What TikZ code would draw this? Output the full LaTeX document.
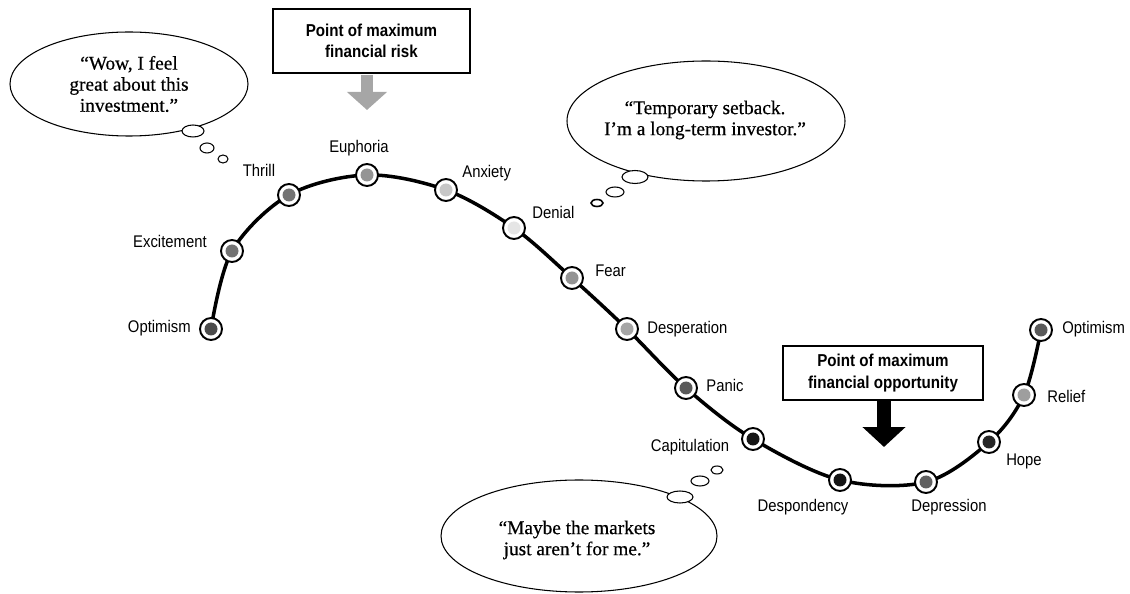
\documentclass[tikz,border=0pt]{standalone}
\usepackage{fontspec}
\setmainfont{Liberation Serif}
\setsansfont{Liberation Sans}[FakeStretch=0.88]
\newfontfamily\thoughtfont{Liberation Serif}[FakeBold=0.5]
\usetikzlibrary{arrows.meta}
\begin{document}
\begin{tikzpicture}[x=0.02cm,y=-0.02cm,
  stage/.style={circle, draw=black, line width=1.1pt, fill=white, minimum size=0.44cm, inner sep=0pt,
    path picture={\fill[#1] (path picture bounding box.center) circle[radius=0.13cm];}},
  lbl/.style={font=\sffamily\fontsize{9.6}{11}\selectfont, inner sep=0pt, text height=7pt, text depth=2pt},
  bubble/.style={draw=black, line width=0.6pt, fill=white},
  thought/.style={font=\thoughtfont\fontsize{11}{12}\selectfont, align=center, inner sep=0pt},
  callout/.style={draw=black, line width=1.4pt, fill=white, font=\sffamily\bfseries\fontsize{9.8}{12.3}\selectfont, align=center, inner sep=0pt},
  curve/.style={line width=2pt, draw=black},
]
\useasboundingbox (0,0) rectangle (1130,594);

% curve points
\coordinate (o1) at (211,329);
\coordinate (exc) at (232,251);
\coordinate (thr) at (289,195);
\coordinate (eup) at (367,175);
\coordinate (anx) at (446,190);
\coordinate (den) at (514,228);
\coordinate (fear) at (572,278);
\coordinate (desp) at (627,329);
\coordinate (pan) at (686,388);
\coordinate (cap) at (753,439);
\coordinate (dsp) at (840,480);
\coordinate (dep) at (926,482);
\coordinate (hope) at (989,442);
\coordinate (rel) at (1024,395);
\coordinate (o2) at (1041,330);

\draw[curve] plot[smooth, tension=0.55] coordinates {(o1) (exc) (thr) (eup) (anx) (den) (fear) (desp) (pan) (cap) (dsp) (dep) (hope) (rel) (o2)};

% stage markers
\node[stage=black!70] (n-o1) at (o1) {};
\node[stage=black!55] (n-exc) at (exc) {};
\node[stage=black!55] (n-thr) at (thr) {};
\node[stage=black!42] (n-eup) at (eup) {};
\node[stage=black!22] (n-anx) at (anx) {};
\node[stage=black!10] (n-den) at (den) {};
\node[stage=black!42] (n-fear) at (fear) {};
\node[stage=black!35] (n-desp) at (desp) {};
\node[stage=black!65] (n-pan) at (pan) {};
\node[stage=black!92] (n-cap) at (cap) {};
\node[stage=black!92] (n-dsp) at (dsp) {};
\node[stage=black!62] (n-dep) at (dep) {};
\node[stage=black!85] (n-hope) at (hope) {};
\node[stage=black!38] (n-rel) at (rel) {};
\node[stage=black!65] (n-o2) at (o2) {};

% stage labels
\node[lbl, anchor=east] (l-o1) at (191,328) {Optimism};
\node[lbl, anchor=east] (l-exc) at (207,243) {Excitement};
\node[lbl] (l-thr) at (259,172) {Thrill};
\node[lbl] (l-eup) at (359,148) {Euphoria};
\node[lbl, anchor=west] (l-anx) at (462,173) {Anxiety};
\node[lbl, anchor=west] (l-den) at (532,214) {Denial};
\node[lbl, anchor=west] (l-fear) at (595,272) {Fear};
\node[lbl, anchor=west] (l-desp) at (647,329) {Desperation};
\node[lbl, anchor=west] (l-pan) at (706,387) {Panic};
\node[lbl] (l-cap) at (690,447) {Capitulation};
\node[lbl] (l-dsp) at (803,507) {Despondency};
\node[lbl] (l-dep) at (949,507) {Depression};
\node[lbl] (l-hope) at (1024,461) {Hope};
\node[lbl, anchor=west] (l-rel) at (1047,398) {Relief};
\node[lbl, anchor=west] (l-o2) at (1062,329) {Optimism};

% callout boxes and arrows
\node[callout, minimum width=3.94cm, minimum height=1.28cm] (risk) at (371.5,41) {Point of maximum\\financial risk};
\coordinate (a1s) at (367,75);
\coordinate (a1e) at (367,110);
\draw[line width=0.24cm, draw=black!35, -{Triangle[width=0.78cm,length=0.36cm]}] (a1s) -- (a1e);

\node[callout, line width=1.2pt, minimum width=4cm, minimum height=1.08cm] (opp) at (883,373) {Point of maximum\\financial opportunity};
\coordinate (a2s) at (884,401);
\coordinate (a2e) at (884,447);
\draw[line width=0.28cm, draw=black, -{Triangle[width=0.84cm,length=0.4cm]}] (a2s) -- (a2e);

% thought bubble 1
\draw[bubble] (129,84) ellipse[x radius=119, y radius=52];
\draw[bubble] (193,131) ellipse[x radius=11, y radius=6];
\draw[bubble] (207,148) ellipse[x radius=7, y radius=5];
\draw[bubble] (223,159) ellipse[x radius=5, y radius=4];
\node[thought] (t1) at (129,84) {“Wow, I feel\\great about this\\investment.”};

% thought bubble 2
\draw[bubble] (706,121) ellipse[x radius=139, y radius=60];
\draw[bubble] (635,177) ellipse[x radius=13, y radius=6.5];
\draw[bubble] (615,192) ellipse[x radius=9, y radius=5];
\draw[bubble, line width=0.9pt] (597,203) ellipse[x radius=6, y radius=3.5];
\node[thought] (t2) at (705,120) {“Temporary setback.\\I’m a long-term investor.”};

% thought bubble 3
\draw[bubble] (579,536) ellipse[x radius=138, y radius=56];
\draw[bubble] (680,497) ellipse[x radius=13, y radius=6];
\draw[bubble] (700,481) ellipse[x radius=9, y radius=5];
\draw[bubble] (717,470) ellipse[x radius=6, y radius=4];
\node[thought] (t3) at (577,540) {“Maybe the markets\\just aren’t for me.”};
\end{tikzpicture}
\end{document}
